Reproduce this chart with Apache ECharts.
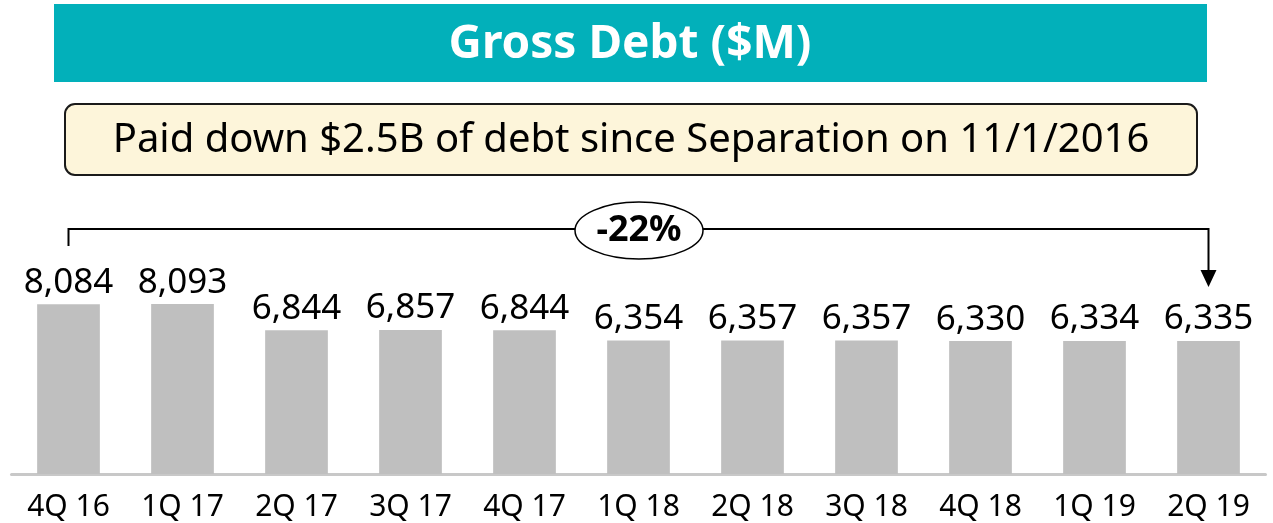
<!DOCTYPE html>
<html>
<head>
<meta charset="utf-8">
<script src="https://cdn.jsdelivr.net/npm/echarts@6/dist/echarts.min.js"></script>
<style>
  html, body { margin: 0; padding: 0; background: #fff; }
  #chart { width: 1273px; height: 523px; }
</style>
</head>
<body>
<div id="chart"></div>
<script>
// data
const quarters = ['4Q 16', '1Q 17', '2Q 17', '3Q 17', '4Q 17', '1Q 18', '2Q 18', '3Q 18', '4Q 18', '1Q 19', '2Q 19']
const grossDebt = [8084, 8093, 6844, 6857, 6844, 6354, 6357, 6357, 6330, 6334, 6335]
const titleText = 'Gross Debt ($M)'
const noteText = 'Paid down $2.5B of debt since Separation on 11/1/2016'
const changeText = '-22%'

const font = "'Noto Sans', 'Open Sans', sans-serif"
const myChart = echarts.init(document.getElementById('chart'))

const option = {
  animation: false,
  grid: {
    left: 11.5,
    right: 7.5,
    top: 54,
    bottom: 49,
    containLabel: false
  },
  xAxis: {
    type: 'category',
    data: quarters,
    axisTick: { show: false },
    axisLine: { show: true, lineStyle: { color: '#c8c8c8', width: 3 } },
    axisLabel: {
      color: '#000',
      fontFamily: font,
      fontSize: 30,
      margin: 18
    }
  },
  yAxis: {
    type: 'value',
    min: 0,
    max: 20000,
    show: false,
    splitLine: { show: false }
  },
  series: [
    {
      name: 'Gross Debt',
      type: 'bar',
      data: grossDebt,
      barWidth: '55%',
      itemStyle: { color: '#bfbfbf' },
      label: {
        show: true,
        position: 'top',
        distance: 4,
        color: '#000',
        fontFamily: font,
        fontSize: 35,
        formatter: p => p.value.toLocaleString('en-US')
      }
    }
  ]
}
myChart.setOption(option)

// header boxes and the -22% bracket; bracket ends follow the first and last bars
const x0 = myChart.convertToPixel({ xAxisIndex: 0 }, quarters[0])
const x1 = myChart.convertToPixel({ xAxisIndex: 0 }, quarters[quarters.length - 1])
const yBr = 229
const midX = 639

myChart.setOption({
  graphic: [
    {
      type: 'rect',
      shape: { x: 54, y: 4, width: 1153, height: 78 },
      style: { fill: '#02b0ba' }
    },
    {
      type: 'text',
      x: 630, y: 45,
      style: {
        text: titleText, fill: '#fff', font: "bold 46px " + font,
        textAlign: 'center', textVerticalAlign: 'middle'
      }
    },
    {
      type: 'rect',
      shape: { x: 65, y: 104, width: 1132, height: 71, r: 10 },
      style: { fill: '#fdf5da', stroke: '#1a1a1a', lineWidth: 2 }
    },
    {
      type: 'text',
      x: 631, y: 141,
      style: {
        text: noteText, fill: '#000', font: "40px " + font,
        textAlign: 'center', textVerticalAlign: 'middle'
      }
    },
    {
      type: 'polyline',
      shape: { points: [[x0, 246], [x0, yBr], [x1, yBr], [x1, 272]] },
      style: { stroke: '#000', lineWidth: 2, fill: null }
    },
    {
      type: 'polygon',
      shape: { points: [[x1 - 8, 270], [x1 + 8, 270], [x1, 287]] },
      style: { fill: '#000' }
    },
    {
      type: 'ellipse',
      shape: { cx: midX, cy: yBr + 1.5, rx: 64, ry: 28.5 },
      style: { fill: '#fff', stroke: '#000', lineWidth: 1.5 }
    },
    {
      type: 'text',
      x: midX, y: yBr + 1.5,
      style: {
        text: changeText, fill: '#000', font: "bold 36px " + font,
        textAlign: 'center', textVerticalAlign: 'middle'
      }
    }
  ]
})
</script>
</body>
</html>
